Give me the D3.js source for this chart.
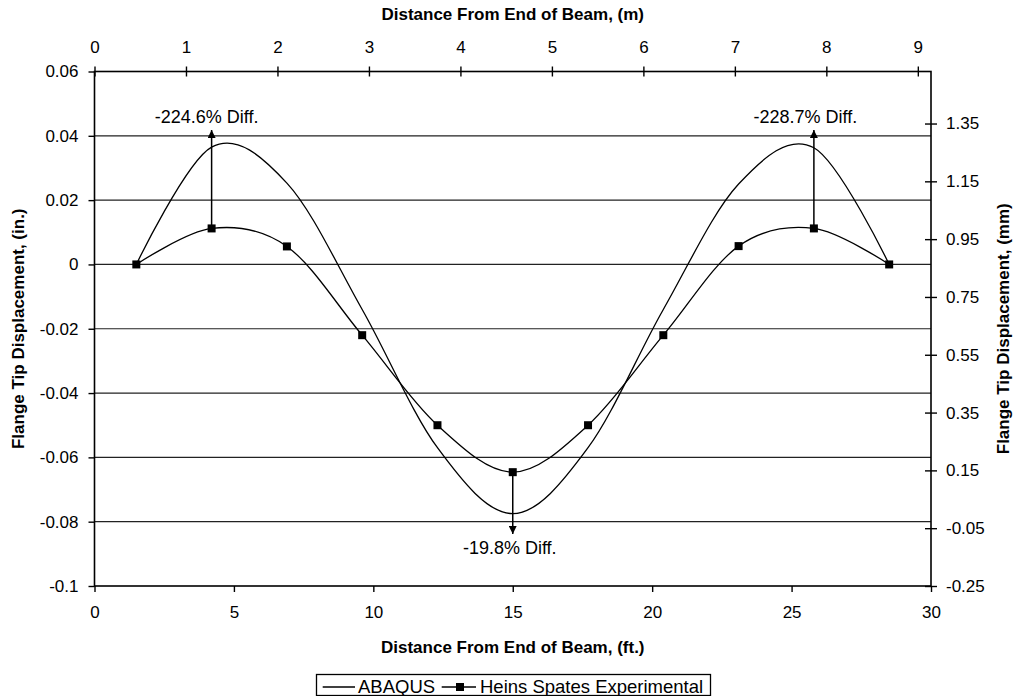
<!DOCTYPE html>
<html>
<head>
<meta charset="utf-8">
<script src="https://cdn.jsdelivr.net/npm/d3@7"></script>
<style>
  body { margin: 0; background: #fff; }
  svg text { font-family: "Liberation Sans", Arial, Helvetica, sans-serif; fill: #000; }
</style>
</head>
<body>
<script>
// Stations along the beam (ft) and displacements (in.)
const stationsFt = [1.5, 4.2, 6.9, 9.6, 12.3, 15, 17.7, 20.4, 23.1, 25.8, 28.5];
const abaqus = [0, 0.0365, 0.0253, -0.014, -0.057, -0.0775, -0.057, -0.014, 0.0250, 0.0363, 0];
const experimental = [0, 0.0112, 0.0056, -0.022, -0.050, -0.0646, -0.050, -0.022, 0.0057, 0.0112, 0];

// Percent-difference callouts
const noteX = [4.2, 25.8, 15];
const noteFrom = [0.0112, 0.0112, -0.0646];
const noteTip = [0.0418, 0.0418, -0.0838];
const noteText = ["-224.6% Diff.", "-228.7% Diff.", "-19.8% Diff."];

// Tick labels
const ftTicks = [0, 5, 10, 15, 20, 25, 30];
const mTicks = [0, 1, 2, 3, 4, 5, 6, 7, 8, 9];
const inTicks = [0.06, 0.04, 0.02, 0, -0.02, -0.04, -0.06, -0.08, -0.1];
const mmTicks = [1.35, 1.15, 0.95, 0.75, 0.55, 0.35, 0.15, -0.05, -0.25];

const W = 1016, H = 696;
const margin = {top: 71.5, right: 85, bottom: 110, left: 94.5};
const plotL = margin.left, plotR = W - margin.right, plotT = margin.top, plotB = H - margin.bottom;

const svg = d3.select("body").append("svg")
  .attr("width", W).attr("height", H);

const x = d3.scaleLinear().domain([0, 30]).range([plotL, plotR]);
const xm = d3.scaleLinear().domain([0, 30 * 0.3048]).range([plotL, plotR]);
const y = d3.scaleLinear().domain([-0.1, 0.06]).range([plotB, plotT]);
const ymm = d3.scaleLinear().domain([-0.25, 1.53]).range([plotB, plotT]);

// gridlines
svg.append("g").selectAll("line")
  .data(inTicks.filter(d => d < 0.059 && d > -0.099))
  .join("line")
  .attr("x1", plotL).attr("x2", plotR)
  .attr("y1", d => y(d)).attr("y2", d => y(d))
  .attr("stroke", "#222").attr("stroke-width", 1.2);

const fmtIn = d => d === 0 ? "0" : String(d);
const tickFont = "17px";

// bottom axis (ft)
const bAxis = svg.append("g")
  .attr("transform", `translate(0,${plotB})`)
  .call(d3.axisBottom(x).tickValues(ftTicks).tickSize(6).tickPadding(14).tickFormat(d => String(d)));
// left axis (in.)
const lAxis = svg.append("g")
  .attr("transform", `translate(${plotL},0)`)
  .call(d3.axisLeft(y).tickValues(inTicks).tickSize(6).tickPadding(10).tickFormat(fmtIn));
// top axis (m)
const tAxis = svg.append("g")
  .attr("transform", `translate(0,${plotT})`)
  .call(d3.axisTop(xm).tickValues(mTicks).tickSizeInner(5).tickSizeOuter(0).tickPadding(14).tickFormat(d => String(d)));
// right axis (mm)
const rAxis = svg.append("g")
  .attr("transform", `translate(${plotR},0)`)
  .call(d3.axisRight(ymm).tickValues(mmTicks).tickSizeInner(6).tickSizeOuter(0).tickPadding(9).tickFormat(d => d.toFixed(2)));

[bAxis, lAxis, tAxis, rAxis].forEach(a => {
  a.select(".domain").remove();
  a.selectAll(".tick line").attr("stroke", "#000").attr("stroke-width", 1.4);
  a.selectAll(".tick text").style("font-size", tickFont).attr("fill", "#000");
});
// cross-style ticks on top and right axes
tAxis.selectAll(".tick line").attr("y1", 5).attr("y2", -5);
rAxis.selectAll(".tick line").attr("x1", -6).attr("x2", 6);

// frame
svg.append("rect")
  .attr("x", plotL).attr("y", plotT)
  .attr("width", plotR - plotL).attr("height", plotB - plotT)
  .attr("fill", "none").attr("stroke", "#000").attr("stroke-width", 1.6);

// series
const smooth = d3.line()
  .x(d => x(d[0])).y(d => y(d[1]))
  .curve(d3.curveCardinal.tension(0));

const abaqusPts = stationsFt.map((s, i) => [s, abaqus[i]]);
const expPts = stationsFt.map((s, i) => [s, experimental[i]]);

svg.append("path").datum(abaqusPts)
  .attr("d", smooth).attr("fill", "none")
  .attr("stroke", "#000").attr("stroke-width", 1.3);
svg.append("path").datum(expPts)
  .attr("d", smooth).attr("fill", "none")
  .attr("stroke", "#000").attr("stroke-width", 1.3);

svg.append("g").selectAll("rect")
  .data(expPts).join("rect")
  .attr("x", d => x(d[0]) - 4).attr("y", d => y(d[1]) - 4)
  .attr("width", 8).attr("height", 8).attr("fill", "#000");

// arrows + callouts
svg.append("defs").append("marker")
  .attr("id", "head").attr("viewBox", "0 0 10 10")
  .attr("refX", 10).attr("refY", 5)
  .attr("markerWidth", 8).attr("markerHeight", 8)
  .attr("markerUnits", "userSpaceOnUse")
  .attr("orient", "auto")
  .append("path").attr("d", "M0,0 L10,5 L0,10 Z").attr("fill", "#000");

const textDx = [-5, -8.5, -3];
const textDy = [-7, -7.5, 20];
noteX.forEach((nx, i) => {
  svg.append("line")
    .attr("x1", x(nx)).attr("x2", x(nx))
    .attr("y1", y(noteFrom[i])).attr("y2", y(noteTip[i]))
    .attr("stroke", "#000").attr("stroke-width", 1.5)
    .attr("marker-end", "url(#head)");
  svg.append("text")
    .attr("x", x(nx) + textDx[i]).attr("y", y(noteTip[i]) + textDy[i])
    .attr("text-anchor", "middle")
    .style("font-size", "18px")
    .text(noteText[i]);
});

// axis titles
const titleStyle = t => t.style("font-size", "17px").style("font-weight", "bold").attr("text-anchor", "middle");
svg.append("text").attr("x", (plotL + plotR) / 2).attr("y", 20)
  .text("Distance From End of Beam, (m)").call(titleStyle);
svg.append("text").attr("x", (plotL + plotR) / 2).attr("y", 653)
  .text("Distance From End of Beam, (ft.)").call(titleStyle);
svg.append("text")
  .attr("transform", `translate(24,${(plotT + plotB) / 2}) rotate(-90)`)
  .text("Flange Tip Displacement, (in.)").call(titleStyle);
svg.append("text")
  .attr("transform", `translate(1009,${(plotT + plotB) / 2}) rotate(-90)`)
  .text("Flange Tip Displacement, (mm)").call(titleStyle);

// legend
const lg = svg.append("g");
lg.append("rect").attr("x", 316.5).attr("y", 674.5).attr("width", 394).attr("height", 21)
  .attr("fill", "#fff").attr("stroke", "#000").attr("stroke-width", 1.3);
lg.append("line").attr("x1", 322.7).attr("x2", 355).attr("y1", 687).attr("y2", 687)
  .attr("stroke", "#000").attr("stroke-width", 1.3);
lg.append("text").attr("x", 358).attr("y", 693).style("font-size", "18.5px").text("ABAQUS");
lg.append("line").attr("x1", 441.7).attr("x2", 476).attr("y1", 687).attr("y2", 687)
  .attr("stroke", "#000").attr("stroke-width", 1.3);
lg.append("rect").attr("x", 456).attr("y", 683).attr("width", 8).attr("height", 8).attr("fill", "#000");
lg.append("text").attr("x", 480).attr("y", 693).style("font-size", "18.5px").text("Heins Spates Experimental");
</script>
</body>
</html>
